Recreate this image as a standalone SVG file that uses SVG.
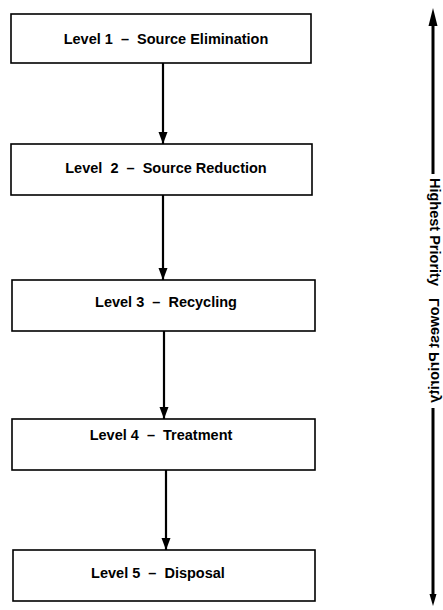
<svg xmlns="http://www.w3.org/2000/svg" width="443" height="610" viewBox="0 0 443 610">
<style>
.box{fill:#fff;stroke:#000;stroke-width:1.6}
.lbl{font-family:"Liberation Sans",Arial,sans-serif;font-weight:bold;font-size:14.5px;fill:#000;text-anchor:middle;white-space:pre}
.side{font-family:"Liberation Sans",Arial,sans-serif;font-weight:bold;font-size:14.5px;fill:#000}
.conn{stroke:#000;stroke-width:2.2;fill:none}
.bar{stroke:#000;stroke-width:3;fill:none}
</style>
<defs>
<marker id="down" markerUnits="userSpaceOnUse" markerWidth="10" markerHeight="12" refX="5" refY="12" orient="0" viewBox="0 0 10 12">
<path d="M0.5,0 L9.5,0 L5,12 Z" fill="#000"/>
</marker>
</defs>
<g id="level1"><rect class="box" x="11" y="14" width="300" height="49"/><text class="lbl" x="166" y="44" xml:space="preserve">Level 1  –  Source Elimination</text></g>
<g id="level2"><rect class="box" x="11" y="144" width="301" height="51"/><text class="lbl" x="166" y="173" xml:space="preserve">Level  2  –  Source Reduction</text></g>
<g id="level3"><rect class="box" x="12" y="280" width="303" height="51"/><text class="lbl" x="166" y="307" xml:space="preserve">Level 3  –  Recycling</text></g>
<g id="level4"><rect class="box" x="12" y="419" width="303" height="51"/><text class="lbl" x="161" y="440" xml:space="preserve">Level 4  –  Treatment</text></g>
<g id="level5"><rect class="box" x="13" y="550" width="302" height="51"/><text class="lbl" x="158" y="578" xml:space="preserve">Level 5  –  Disposal</text></g>
<g id="connectors">
<line class="conn" x1="163" y1="63" x2="163" y2="144" marker-end="url(#down)"/>
<line class="conn" x1="163" y1="195" x2="163" y2="280" marker-end="url(#down)"/>
<line class="conn" x1="164" y1="331" x2="164" y2="419" marker-end="url(#down)"/>
<line class="conn" x1="166" y1="470" x2="166" y2="550" marker-end="url(#down)"/>
</g>
<g id="priority">
<line class="bar" x1="433" y1="22" x2="433" y2="174"/>
<path d="M433,8 L437.5,26 L428.5,26 Z" fill="#000"/>
<text class="side" transform="translate(430,178) rotate(90)">Highest Priority</text>
<text class="side" transform="matrix(0,1,1,0,439,298)">Lowest Priority</text>
<line class="bar" x1="433" y1="408" x2="433" y2="596"/>
<path d="M429.5,594 L436.5,594 L433,606 Z" fill="#000"/>
</g>
</svg>
